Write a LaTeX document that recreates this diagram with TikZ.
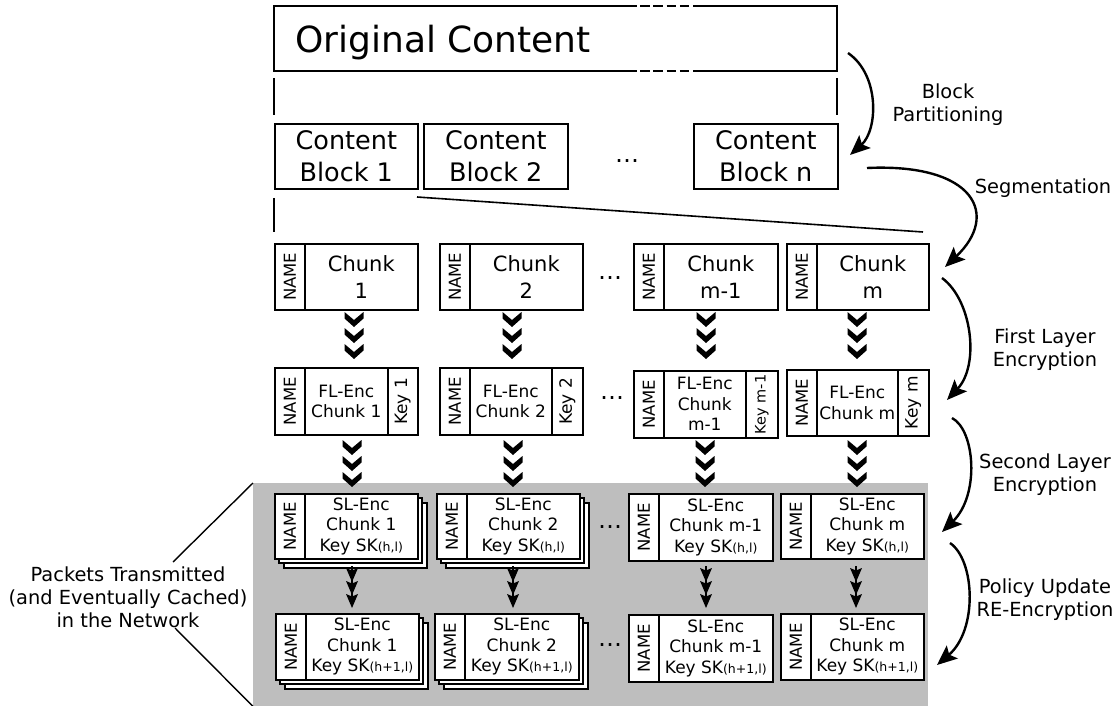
\documentclass[tikz,border=0pt]{standalone}
\usepackage{fontspec}
\setmainfont{DejaVu Sans}
\usepackage{graphicx}
\usetikzlibrary{arrows.meta}
\definecolor{netgray}{RGB}{190,190,190}
\newcommand\setfs[2]{\fontsize{#1}{#2}\selectfont}
\newcommand\rotup[1]{\rotatebox{90}{#1}}
\newcommand\sksub[1]{{\fontsize{12.5}{12.5}\selectfont(#1)}}
\tikzset{
 bx/.style={draw, line width=1.6pt, fill=white, inner sep=0pt, anchor=north west, align=center},
 blk/.style={bx, minimum height=65pt, font=\setfs{25.5}{32}},
 chk/.style={bx, minimum height=66pt, font=\setfs{21}{27}},
 nm/.style={bx, minimum width=30pt, font=\setfs{16.5}{18}},
 enc/.style={bx, font=\setfs{17}{20.5}},
 keyb/.style={bx, font=\setfs{17}{20}},
 lbl/.style={align=center, font=\setfs{19.4}{23}},
 dotsn/.style={font=\setfs{24}{24}, inner sep=0pt},
 curv/.style={line width=2.4pt, -{Stealth[length=20pt,width=17pt,inset=4pt]}},
 edgeln/.style={line width=1.6pt},
 thinln/.style={line width=1.4pt},
 shadowbox/.style={draw, line width=1.2pt, fill=white},
 chevr/.pic={\fill (-9.5,0) -- (0,8) -- (9.5,0) -- (9.5,6.5) -- (0,15) -- (-9.5,6.5) -- cycle;},
 trih/.pic={\fill (-6,0) -- (0,2.5) -- (6,0) -- (0,14) -- cycle;},
}
\begin{document}
\begin{tikzpicture}[x=1pt,y=-1pt]
\useasboundingbox (0,0) rectangle (1120,706);

% network background
\node[fill=netgray, anchor=north west, minimum width=675pt, minimum height=223pt, inner sep=0pt] (net) at (253,483) {};

% original content
\draw[edgeln] (627,6) -- (274,6) -- (274,71) -- (627,71);
\draw[edgeln] (693,6) -- (837,6) -- (837,71) -- (693,71);
\draw[line width=2.4pt, dash pattern=on 9.5pt off 3.7pt] (627,6) -- (693,6);
\draw[line width=2.4pt, dash pattern=on 9.5pt off 3.7pt] (627,71) -- (693,71);
\node[anchor=base west, font=\setfs{36}{36}, inner sep=0pt] (orig) at (295,53) {Original Content};

\draw[edgeln] (274,78) -- (274,115);
\draw[edgeln] (837,78) -- (837,115);

% content blocks
\node[blk, minimum width=143pt] (b1) at (274,123) {Content\\Block 1};
\node[blk, minimum width=144pt] (b2) at (423,123) {Content\\Block 2};
\node[dotsn] (bdots) at (627,161) {…};
\node[blk, minimum width=144pt] (bn) at (693,123) {Content\\Block n};

\draw[edgeln] (274,198) -- (274,232);
\draw[edgeln] (417,197) -- (923,232);

% chunks
\node[nm, minimum height=66pt] (c1n) at (274,243) {\rotup{NAME}};
\node[chk, minimum width=113pt] (c1) at (304,243) {Chunk\\1};
\node[nm, minimum height=66pt] (c2n) at (439,243) {\rotup{NAME}};
\node[chk, minimum width=113pt] (c2) at (469,243) {Chunk\\2};
\node[dotsn] (cdots) at (610,278) {…};
\node[nm, minimum height=66pt] (c3n) at (633,243) {\rotup{NAME}};
\node[chk, minimum width=114pt] (c3) at (663,243) {Chunk\\m-1};
\node[nm, minimum height=66pt] (c4n) at (786,243) {\rotup{NAME}};
\node[chk, minimum width=112pt] (c4) at (816,243) {Chunk\\m};

% chevrons chunk -> FL
\foreach \x in {354,512,706,857}
  \foreach \t in {312,328,344}
    \pic at (\x,\t) {chevr};

% first layer encryption
\node[nm, minimum height=67pt] (f1n) at (274,367) {\rotup{NAME}};
\node[enc, minimum width=83pt, minimum height=67pt] (f1) at (304,367) {FL-Enc\\Chunk 1};
\node[keyb, minimum width=30pt, minimum height=67pt] (f1k) at (387,367) {\rotup{Key 1}};
\node[nm, minimum height=67pt] (f2n) at (439,367) {\rotup{NAME}};
\node[enc, minimum width=82pt, minimum height=67pt] (f2) at (469,367) {FL-Enc\\Chunk 2};
\node[keyb, minimum width=31pt, minimum height=67pt] (f2k) at (551,367) {\rotup{Key 2}};
\node[dotsn] (fdots) at (612,398) {…};
\node[nm, minimum height=67pt] (f3n) at (633,370) {\rotup{NAME}};
\node[enc, minimum width=82pt, minimum height=67pt] (f3) at (663,370) {FL-Enc\\Chunk\\m-1};
\node[keyb, minimum width=32pt, minimum height=67pt, font=\setfs{14.5}{16}] (f3k) at (745,370) {\rotup{Key m-1}};
\node[nm, minimum height=66pt] (f4n) at (786,369) {\rotup{NAME}};
\node[enc, minimum width=81pt, minimum height=66pt] (f4) at (816,369) {FL-Enc\\Chunk m};
\node[keyb, minimum width=31pt, minimum height=66pt] (f4k) at (897,369) {\rotup{Key m}};

% chevrons FL -> SL
\foreach \x in {352,513,705,857}
  \foreach \t in {440,456,472}
    \pic at (\x,\t) {chevr};

% second layer encryption, row 1
\draw[shadowbox] (284,503) rectangle ++(143,65);
\draw[shadowbox] (279,498) rectangle ++(143,65);
\node[nm, minimum height=65pt] (s1n) at (274,493) {\rotup{NAME}};
\node[enc, minimum width=113pt, minimum height=65pt] (s1) at (304,493) {SL-Enc\\Chunk 1\\Key SK\sksub{h,l}};
\draw[shadowbox] (446,503) rectangle ++(143,65);
\draw[shadowbox] (441,498) rectangle ++(143,65);
\node[nm, minimum height=65pt] (s2n) at (436,493) {\rotup{NAME}};
\node[enc, minimum width=113pt, minimum height=65pt] (s2) at (466,493) {SL-Enc\\Chunk 2\\Key SK\sksub{h,l}};
\node[dotsn] (sdots) at (610,527) {…};
\node[nm, minimum height=67pt] (s3n) at (628,493) {\rotup{NAME}};
\node[enc, minimum width=114pt, minimum height=67pt] (s3) at (658,493) {SL-Enc\\Chunk m-1\\Key SK\sksub{h,l}};
\node[nm, minimum height=65pt] (s4n) at (780,493) {\rotup{NAME}};
\node[enc, minimum width=113pt, minimum height=65pt] (s4) at (810,493) {SL-Enc\\Chunk m\\Key SK\sksub{h,l}};

% triangle arrows SL row1 -> row2
\foreach \x in {352,513,706,856} {
  \draw[line width=1.2pt] (\x,566) -- (\x,604);
  \foreach \t in {568,581,594}
    \pic at (\x,\t) {trih};
}

% second layer encryption, row 2
\draw[shadowbox] (285,623) rectangle ++(143,66);
\draw[shadowbox] (280,618) rectangle ++(143,66);
\node[nm, minimum height=66pt] (t1n) at (275,613) {\rotup{NAME}};
\node[enc, minimum width=113pt, minimum height=66pt] (t1) at (305,613) {SL-Enc\\Chunk 1\\Key SK\sksub{h+1,l}};
\draw[shadowbox] (444,623) rectangle ++(144,66);
\draw[shadowbox] (439,618) rectangle ++(144,66);
\node[nm, minimum height=66pt] (t2n) at (434,613) {\rotup{NAME}};
\node[enc, minimum width=114pt, minimum height=66pt] (t2) at (464,613) {SL-Enc\\Chunk 2\\Key SK\sksub{h+1,l}};
\node[dotsn] (tdots) at (610,645) {…};
\node[nm, minimum height=67pt] (t3n) at (628,614) {\rotup{NAME}};
\node[enc, minimum width=114pt, minimum height=67pt] (t3) at (658,614) {SL-Enc\\Chunk m-1\\Key SK\sksub{h+1,l}};
\node[nm, minimum height=66pt] (t4n) at (780,613) {\rotup{NAME}};
\node[enc, minimum width=113pt, minimum height=66pt] (t4) at (810,613) {SL-Enc\\Chunk m\\Key SK\sksub{h+1,l}};

% left label
\node[lbl] (pk) at (128,597) {Packets Transmitted\\(and Eventually Cached)\\in the Network};
\coordinate (pkup) at (173,562);
\coordinate (pkdn) at (175,628);
\draw[thinln] (pkup) -- (net.north west);
\draw[thinln] (pkdn) -- (net.south west);

% right labels
\node[lbl] (lbp) at (948,105) {Block\\Partitioning};
\node[lbl] (lseg) at (1043,188) {Segmentation};
\node[lbl] (lfl) at (1045,350) {First Layer\\Encryption};
\node[lbl] (lsl) at (1045,475) {Second Layer\\Encryption};
\node[lbl] (lpu) at (1045,600) {Policy Update\\RE-Encryption};

% curved arrows
\coordinate (a1s) at (848,53);  \coordinate (a1e) at (850,155);
\coordinate (a2s) at (867,168); \coordinate (a2e) at (945,267);
\coordinate (a3s) at (942,278); \coordinate (a3e) at (947,400);
\coordinate (a4s) at (952,418); \coordinate (a4e) at (942,532);
\coordinate (a5s) at (950,543); \coordinate (a5e) at (937,665);
\draw[curv] (a1s) .. controls (880,75) and (878,130) .. (a1e);
\draw[curv] (a2s) .. controls (975,163) and (1000,215) .. (a2e);
\draw[curv] (a3s) .. controls (972,300) and (980,365) .. (a3e);
\draw[curv] (a4s) .. controls (975,430) and (980,495) .. (a4e);
\draw[curv] (a5s) .. controls (975,560) and (978,630) .. (a5e);
\end{tikzpicture}
\end{document}
